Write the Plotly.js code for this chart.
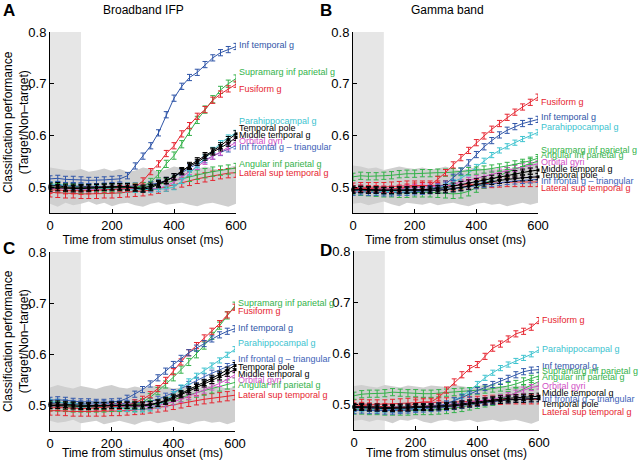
<!DOCTYPE html>
<html lang="en">
<head>
<meta charset="UTF-8">
<title>Classification performance by region</title>
<script src="https://cdn.plot.ly/plotly-3.0.1.min.js"></script>
<style>
  body { margin: 0; background: #fff; }
  #chart { width: 640px; height: 460px; }
</style>
</head>
<body>
<div id="chart"></div>
<script>
// time bins (ms)
const times = [0,25,50,75,100,125,150,175,200,225,250,275,300,325,350,375,400,425,450,475,500,525,550,575,600];

const regionNames = ['Inf temporal g', 'Supramarg inf parietal g', 'Fusiform g', 'Parahippocampal g',
  'Temporal pole', 'Middle temporal g', 'Orbital gyri', 'Inf frontal g \u2013 triangular',
  'Angular inf parietal g', 'Lateral sup temporal g'];

// ---- A: broadband IFP ----
const infTemporalA   = [0.516,0.517,0.515,0.515,0.514,0.513,0.513,0.514,0.515,0.516,0.522,0.541,0.560,0.580,0.605,0.640,0.672,0.695,0.712,0.722,0.737,0.750,0.760,0.766,0.772];
const supramargA     = [0.500,0.500,0.499,0.498,0.498,0.498,0.498,0.499,0.499,0.500,0.500,0.500,0.502,0.510,0.525,0.545,0.561,0.583,0.607,0.630,0.650,0.670,0.688,0.700,0.710];
const fusiformA      = [0.494,0.495,0.493,0.493,0.492,0.493,0.494,0.495,0.495,0.497,0.497,0.500,0.512,0.530,0.545,0.565,0.580,0.603,0.619,0.637,0.650,0.668,0.680,0.690,0.699];
const parahippoA     = [0.505,0.506,0.503,0.501,0.500,0.499,0.498,0.497,0.497,0.496,0.495,0.495,0.495,0.495,0.496,0.497,0.500,0.512,0.527,0.542,0.557,0.572,0.585,0.596,0.605];
const tempPoleA      = [0.502,0.503,0.500,0.500,0.499,0.499,0.500,0.500,0.501,0.501,0.501,0.499,0.498,0.502,0.507,0.513,0.520,0.530,0.542,0.551,0.561,0.570,0.580,0.592,0.603];
const midTemporalA   = [0.498,0.499,0.498,0.497,0.497,0.498,0.499,0.500,0.500,0.500,0.500,0.498,0.496,0.499,0.505,0.512,0.520,0.532,0.540,0.548,0.558,0.568,0.576,0.585,0.596];
const orbitalA       = [0.497,0.498,0.497,0.496,0.496,0.496,0.496,0.496,0.497,0.497,0.497,0.497,0.497,0.497,0.498,0.502,0.510,0.520,0.530,0.540,0.550,0.560,0.568,0.578,0.587];
const infFrontalA    = [0.503,0.504,0.503,0.502,0.502,0.501,0.501,0.501,0.502,0.502,0.502,0.502,0.503,0.505,0.508,0.513,0.520,0.528,0.537,0.545,0.553,0.560,0.567,0.574,0.580];
const angularA       = [0.500,0.499,0.498,0.498,0.497,0.497,0.497,0.497,0.498,0.498,0.499,0.499,0.500,0.502,0.505,0.508,0.512,0.516,0.520,0.524,0.527,0.530,0.532,0.534,0.537];
const latSupTempA    = [0.490,0.489,0.488,0.488,0.487,0.487,0.487,0.488,0.488,0.489,0.490,0.491,0.492,0.494,0.497,0.501,0.505,0.509,0.512,0.516,0.519,0.522,0.525,0.527,0.528];
const chanceHiA      = [0.538,0.535,0.533,0.532,0.535,0.530,0.532,0.536,0.531,0.535,0.530,0.532,0.538,0.535,0.530,0.534,0.540,0.537,0.533,0.535,0.540,0.536,0.533,0.538,0.542];
const chanceLoA      = [0.468,0.462,0.470,0.465,0.468,0.472,0.466,0.470,0.463,0.468,0.470,0.465,0.462,0.468,0.471,0.466,0.468,0.470,0.466,0.463,0.468,0.470,0.466,0.462,0.468];

// ---- B: gamma band ----
const infTemporalB   = [0.494,0.495,0.494,0.494,0.493,0.493,0.494,0.494,0.495,0.495,0.497,0.500,0.506,0.519,0.531,0.547,0.563,0.578,0.590,0.601,0.610,0.617,0.623,0.627,0.631];
const supramargB     = [0.520,0.522,0.521,0.521,0.522,0.523,0.525,0.526,0.526,0.527,0.527,0.528,0.528,0.529,0.530,0.531,0.532,0.534,0.536,0.538,0.541,0.544,0.547,0.551,0.556];
const fusiformB      = [0.497,0.498,0.497,0.497,0.496,0.496,0.498,0.500,0.502,0.503,0.503,0.515,0.528,0.543,0.557,0.571,0.586,0.599,0.612,0.623,0.635,0.645,0.655,0.664,0.674];
const parahippoB     = [0.493,0.494,0.493,0.492,0.492,0.491,0.492,0.492,0.493,0.494,0.495,0.498,0.503,0.510,0.517,0.527,0.539,0.551,0.562,0.571,0.579,0.586,0.593,0.600,0.606];
const tempPoleB      = [0.494,0.495,0.494,0.494,0.493,0.493,0.493,0.494,0.494,0.494,0.494,0.494,0.495,0.497,0.499,0.502,0.505,0.508,0.511,0.513,0.515,0.517,0.518,0.519,0.520];
const midTemporalB   = [0.496,0.496,0.495,0.495,0.494,0.494,0.495,0.495,0.495,0.495,0.496,0.497,0.499,0.502,0.505,0.508,0.511,0.514,0.517,0.520,0.523,0.526,0.529,0.531,0.533];
const orbitalB       = [0.497,0.498,0.497,0.497,0.496,0.496,0.497,0.498,0.499,0.500,0.500,0.501,0.503,0.506,0.509,0.513,0.517,0.521,0.525,0.529,0.532,0.536,0.539,0.542,0.545];
const infFrontalB    = [0.490,0.491,0.490,0.490,0.489,0.489,0.490,0.490,0.491,0.492,0.493,0.494,0.495,0.497,0.499,0.501,0.503,0.505,0.507,0.509,0.511,0.512,0.513,0.514,0.515];
const angularB       = [0.494,0.493,0.492,0.491,0.490,0.490,0.489,0.489,0.490,0.490,0.490,0.489,0.488,0.487,0.488,0.492,0.499,0.507,0.515,0.522,0.529,0.535,0.541,0.546,0.550];
const latSupTempB    = [0.499,0.500,0.500,0.500,0.500,0.501,0.502,0.503,0.503,0.503,0.503,0.503,0.503,0.503,0.504,0.505,0.506,0.507,0.508,0.509,0.510,0.510,0.510,0.510,0.510];
const chanceHiB      = [0.542,0.540,0.536,0.538,0.533,0.536,0.540,0.537,0.535,0.538,0.534,0.536,0.540,0.535,0.532,0.536,0.538,0.534,0.536,0.533,0.537,0.535,0.540,0.546,0.548];
const chanceLoB      = [0.468,0.470,0.465,0.468,0.472,0.467,0.463,0.470,0.468,0.466,0.470,0.465,0.468,0.470,0.466,0.463,0.468,0.470,0.466,0.468,0.463,0.467,0.470,0.466,0.470];

// ---- C: broadband IFP ----
const infTemporalC   = [0.510,0.511,0.510,0.508,0.507,0.507,0.506,0.506,0.507,0.508,0.514,0.522,0.531,0.542,0.554,0.567,0.580,0.592,0.603,0.612,0.621,0.630,0.638,0.645,0.650];
const supramargC     = [0.500,0.500,0.499,0.498,0.498,0.498,0.499,0.499,0.500,0.500,0.500,0.501,0.506,0.516,0.528,0.541,0.555,0.570,0.585,0.600,0.617,0.636,0.656,0.676,0.695];
const fusiformC      = [0.495,0.496,0.495,0.494,0.494,0.494,0.495,0.496,0.497,0.498,0.500,0.505,0.512,0.521,0.533,0.549,0.566,0.585,0.603,0.617,0.632,0.645,0.660,0.677,0.692];
const parahippoC     = [0.507,0.507,0.505,0.503,0.501,0.500,0.499,0.498,0.497,0.495,0.493,0.492,0.492,0.494,0.500,0.510,0.522,0.535,0.547,0.558,0.568,0.578,0.588,0.599,0.610];
const tempPoleC      = [0.503,0.503,0.502,0.501,0.500,0.500,0.500,0.500,0.501,0.501,0.501,0.501,0.501,0.502,0.505,0.510,0.516,0.523,0.531,0.538,0.545,0.553,0.561,0.569,0.578];
const midTemporalC   = [0.500,0.500,0.499,0.499,0.498,0.498,0.499,0.499,0.500,0.500,0.500,0.499,0.499,0.501,0.504,0.508,0.514,0.521,0.528,0.535,0.542,0.549,0.556,0.563,0.570];
const orbitalC       = [0.499,0.499,0.498,0.497,0.497,0.497,0.497,0.497,0.497,0.497,0.497,0.497,0.497,0.498,0.500,0.503,0.507,0.512,0.518,0.524,0.530,0.536,0.543,0.551,0.560];
const infFrontalC    = [0.505,0.506,0.505,0.504,0.503,0.503,0.503,0.503,0.503,0.504,0.504,0.505,0.506,0.508,0.512,0.518,0.525,0.533,0.541,0.549,0.556,0.563,0.570,0.576,0.582];
const angularC       = [0.498,0.498,0.497,0.496,0.496,0.496,0.496,0.496,0.497,0.497,0.497,0.497,0.498,0.500,0.503,0.507,0.511,0.516,0.520,0.525,0.529,0.533,0.537,0.541,0.545];
const latSupTempC    = [0.490,0.490,0.489,0.488,0.488,0.488,0.488,0.488,0.489,0.489,0.490,0.491,0.492,0.494,0.496,0.498,0.501,0.504,0.507,0.510,0.512,0.514,0.516,0.518,0.520];
const chanceHiC      = [0.535,0.540,0.536,0.533,0.538,0.535,0.532,0.537,0.540,0.535,0.533,0.537,0.534,0.536,0.540,0.537,0.533,0.535,0.538,0.534,0.536,0.540,0.537,0.533,0.536];
const chanceLoC      = [0.470,0.466,0.468,0.472,0.465,0.468,0.470,0.463,0.467,0.470,0.466,0.462,0.468,0.470,0.465,0.468,0.471,0.466,0.463,0.468,0.470,0.466,0.468,0.463,0.468];

// ---- D: gamma band ----
const infTemporalD   = [0.493,0.494,0.493,0.492,0.492,0.491,0.491,0.492,0.493,0.494,0.495,0.497,0.501,0.507,0.513,0.520,0.527,0.533,0.539,0.545,0.551,0.558,0.564,0.567,0.568];
const supramargD     = [0.517,0.520,0.521,0.521,0.522,0.524,0.523,0.522,0.522,0.521,0.521,0.522,0.523,0.524,0.525,0.526,0.527,0.529,0.531,0.533,0.536,0.540,0.545,0.550,0.556];
const fusiformD      = [0.497,0.498,0.497,0.496,0.496,0.495,0.494,0.495,0.503,0.505,0.505,0.514,0.528,0.544,0.558,0.570,0.578,0.594,0.610,0.618,0.628,0.638,0.643,0.651,0.664];
const parahippoD     = [0.491,0.492,0.491,0.490,0.490,0.490,0.490,0.491,0.492,0.493,0.494,0.496,0.500,0.508,0.516,0.527,0.540,0.552,0.562,0.571,0.578,0.585,0.591,0.598,0.607];
const tempPoleD      = [0.494,0.494,0.493,0.493,0.492,0.492,0.493,0.493,0.494,0.494,0.494,0.495,0.496,0.497,0.499,0.501,0.503,0.505,0.507,0.508,0.509,0.510,0.510,0.511,0.511];
const midTemporalD   = [0.496,0.496,0.495,0.495,0.494,0.494,0.495,0.495,0.496,0.496,0.496,0.497,0.498,0.499,0.501,0.503,0.505,0.507,0.509,0.511,0.512,0.513,0.514,0.515,0.516];
const orbitalD       = [0.495,0.496,0.495,0.495,0.494,0.494,0.495,0.495,0.496,0.497,0.497,0.498,0.499,0.500,0.502,0.504,0.506,0.508,0.510,0.513,0.517,0.522,0.528,0.533,0.536];
const infFrontalD    = [0.488,0.489,0.488,0.488,0.487,0.487,0.488,0.489,0.490,0.491,0.492,0.493,0.494,0.496,0.498,0.500,0.502,0.504,0.506,0.508,0.509,0.510,0.511,0.511,0.512];
const angularD       = [0.490,0.490,0.489,0.489,0.488,0.488,0.488,0.488,0.489,0.489,0.489,0.490,0.491,0.493,0.495,0.498,0.501,0.504,0.507,0.511,0.516,0.523,0.530,0.538,0.545];
const latSupTempD    = [0.500,0.501,0.500,0.500,0.500,0.501,0.502,0.503,0.504,0.504,0.504,0.504,0.504,0.505,0.505,0.506,0.507,0.508,0.509,0.509,0.510,0.510,0.510,0.510,0.510];
const chanceHiD      = [0.536,0.538,0.535,0.533,0.538,0.536,0.533,0.537,0.535,0.533,0.537,0.535,0.534,0.538,0.535,0.533,0.536,0.538,0.534,0.536,0.533,0.537,0.535,0.538,0.540];
const chanceLoD      = [0.468,0.470,0.466,0.470,0.468,0.463,0.470,0.468,0.472,0.466,0.463,0.468,0.470,0.466,0.468,0.470,0.465,0.468,0.470,0.466,0.468,0.470,0.466,0.462,0.468];

// series order matches regionNames
const colors = ['#2f55a8', '#34b24a', '#e62530', '#3ec3cf', '#000000', '#000000', '#d24fc6', '#3d62b8', '#34b24a', '#e62530'];
const errSize = [0.006, 0.007, 0.006, 0.005, 0.006, 0.006, 0.006, 0.006, 0.009, 0.009];
const drawOrder = [9, 8, 7, 6, 3, 1, 2, 0, 5, 4];

// label heights next to the line ends, per panel
const labelYA = [0.774, 0.722, 0.689, 0.627, 0.614, 0.601, 0.590, 0.577, 0.545, 0.528];
const labelYB = [0.635, 0.571, 0.665, 0.617, 0.524, 0.535, 0.548, 0.511, 0.562, 0.499];
const labelYC = [0.652, 0.700, 0.685, 0.622, 0.575, 0.562, 0.550, 0.590, 0.540, 0.521];
const labelYD = [0.576, 0.565, 0.666, 0.609, 0.500, 0.523, 0.537, 0.511, 0.553, 0.486];

const panels = [
  { ax: '',  series: [infTemporalA, supramargA, fusiformA, parahippoA, tempPoleA, midTemporalA, orbitalA, infFrontalA, angularA, latSupTempA], hi: chanceHiA, lo: chanceLoA, labelY: labelYA },
  { ax: '2', series: [infTemporalB, supramargB, fusiformB, parahippoB, tempPoleB, midTemporalB, orbitalB, infFrontalB, angularB, latSupTempB], hi: chanceHiB, lo: chanceLoB, labelY: labelYB },
  { ax: '3', series: [infTemporalC, supramargC, fusiformC, parahippoC, tempPoleC, midTemporalC, orbitalC, infFrontalC, angularC, latSupTempC], hi: chanceHiC, lo: chanceLoC, labelY: labelYC },
  { ax: '4', series: [infTemporalD, supramargD, fusiformD, parahippoD, tempPoleD, midTemporalD, orbitalD, infFrontalD, angularD, latSupTempD], hi: chanceHiD, lo: chanceLoD, labelY: labelYD }
];

const font = 'Liberation Sans, Arial, Helvetica, sans-serif';
const traces = [];
const annotations = [];
const shapes = [];

panels.forEach(function (p) {
  const xa = 'x' + p.ax, ya = 'y' + p.ax;
  // chance level band
  traces.push({ x: times, y: p.lo, xaxis: xa, yaxis: ya, mode: 'lines', line: { width: 0, color: '#cfcfcf' }, hoverinfo: 'skip', showlegend: false });
  traces.push({ x: times, y: p.hi, xaxis: xa, yaxis: ya, mode: 'lines', fill: 'tonexty', fillcolor: '#cfcfcf', line: { width: 0, color: '#cfcfcf' }, hoverinfo: 'skip', showlegend: false });
  // baseline window 0-100 ms
  shapes.push({ type: 'rect', xref: xa, yref: ya, x0: 0, x1: 100, y0: 0.45, y1: 0.8, fillcolor: '#e6e6e6', line: { width: 0 }, layer: 'below' });

  drawOrder.forEach(function (i) {
    const isBlack = colors[i] === '#000000';
    traces.push({
      x: times, y: p.series[i], xaxis: xa, yaxis: ya, name: regionNames[i],
      mode: isBlack ? 'lines+markers' : 'lines',
      line: { color: colors[i], width: 1 },
      marker: { symbol: 'square', size: 3, color: colors[i] },
      error_y: { type: 'constant', value: errSize[i], color: colors[i], thickness: 1, width: 2.5 },
      cliponaxis: false, showlegend: false
    });
  });

  regionNames.forEach(function (n, i) {
    annotations.push({ xref: xa, yref: ya, x: 600, y: p.labelY[i], text: n, showarrow: false,
      xanchor: 'left', yanchor: 'middle', xshift: 1, font: { family: font, size: 9, color: colors[i] } });
  });
});

function xAxis(domain, anchor) {
  return { domain: domain, anchor: anchor, range: [0, 600], tickvals: [0, 200, 400, 600],
    ticks: 'inside', ticklen: 4, tickcolor: '#000', showline: true, linecolor: '#000', linewidth: 1,
    showgrid: false, zeroline: false, tickfont: { family: font, size: 13, color: '#000' },
    title: { text: 'Time from stimulus onset (ms)', font: { family: font, size: 12, color: '#000' }, standoff: 3 } };
}
function yAxis(domain, anchor) {
  return { domain: domain, anchor: anchor, range: [0.45, 0.8], tickvals: [0.5, 0.6, 0.7, 0.8],
    ticktext: ['0.5', '0.6', '0.7', '0.8'],
    ticks: 'inside', ticklen: 4, tickcolor: '#000', showline: true, linecolor: '#000', linewidth: 1,
    showgrid: false, zeroline: false, tickfont: { family: font, size: 13, color: '#000' } };
}

function paperText(px, py, text, size, angle) {
  return { xref: 'paper', yref: 'paper', x: px / 640, y: 1 - py / 460, xanchor: 'center', yanchor: 'middle',
    text: text, textangle: angle || 0, showarrow: false, font: { family: font, size: size, color: '#000' } };
}

const yTitle = 'Classification performance<br>(Target/Non\u2013target)';
annotations.push(
  paperText(16, 122, yTitle, 12, -90),
  paperText(16, 341, yTitle, 12, -90),
  paperText(143, 10, 'Broadband IFP', 12),
  paperText(447, 10, 'Gamma band', 12),
  paperText(9, 11, '<b>A</b>', 17),
  paperText(326, 11, '<b>B</b>', 17),
  paperText(9, 248, '<b>C</b>', 17),
  paperText(326, 250, '<b>D</b>', 17)
);

const layout = {
  width: 640, height: 460,
  margin: { l: 0, r: 0, t: 0, b: 0 },
  paper_bgcolor: '#fff', plot_bgcolor: 'rgba(0,0,0,0)',
  font: { family: font, color: '#000' },
  showlegend: false,
  xaxis:  xAxis([50 / 640, 236 / 640], 'y'),
  yaxis:  yAxis([1 - 213 / 460, 1 - 32 / 460], 'x'),
  xaxis2: xAxis([353 / 640, 538 / 640], 'y2'),
  yaxis2: yAxis([1 - 213 / 460, 1 - 32 / 460], 'x2'),
  xaxis3: xAxis([50 / 640, 235 / 640], 'y3'),
  yaxis3: yAxis([1 - 431 / 460, 1 - 252 / 460], 'x3'),
  xaxis4: xAxis([354 / 640, 539 / 640], 'y4'),
  yaxis4: yAxis([1 - 430 / 460, 1 - 251 / 460], 'x4'),
  shapes: shapes,
  annotations: annotations
};

Plotly.newPlot('chart', traces, layout, { displayModeBar: false, staticPlot: true });
</script>
</body>
</html>
